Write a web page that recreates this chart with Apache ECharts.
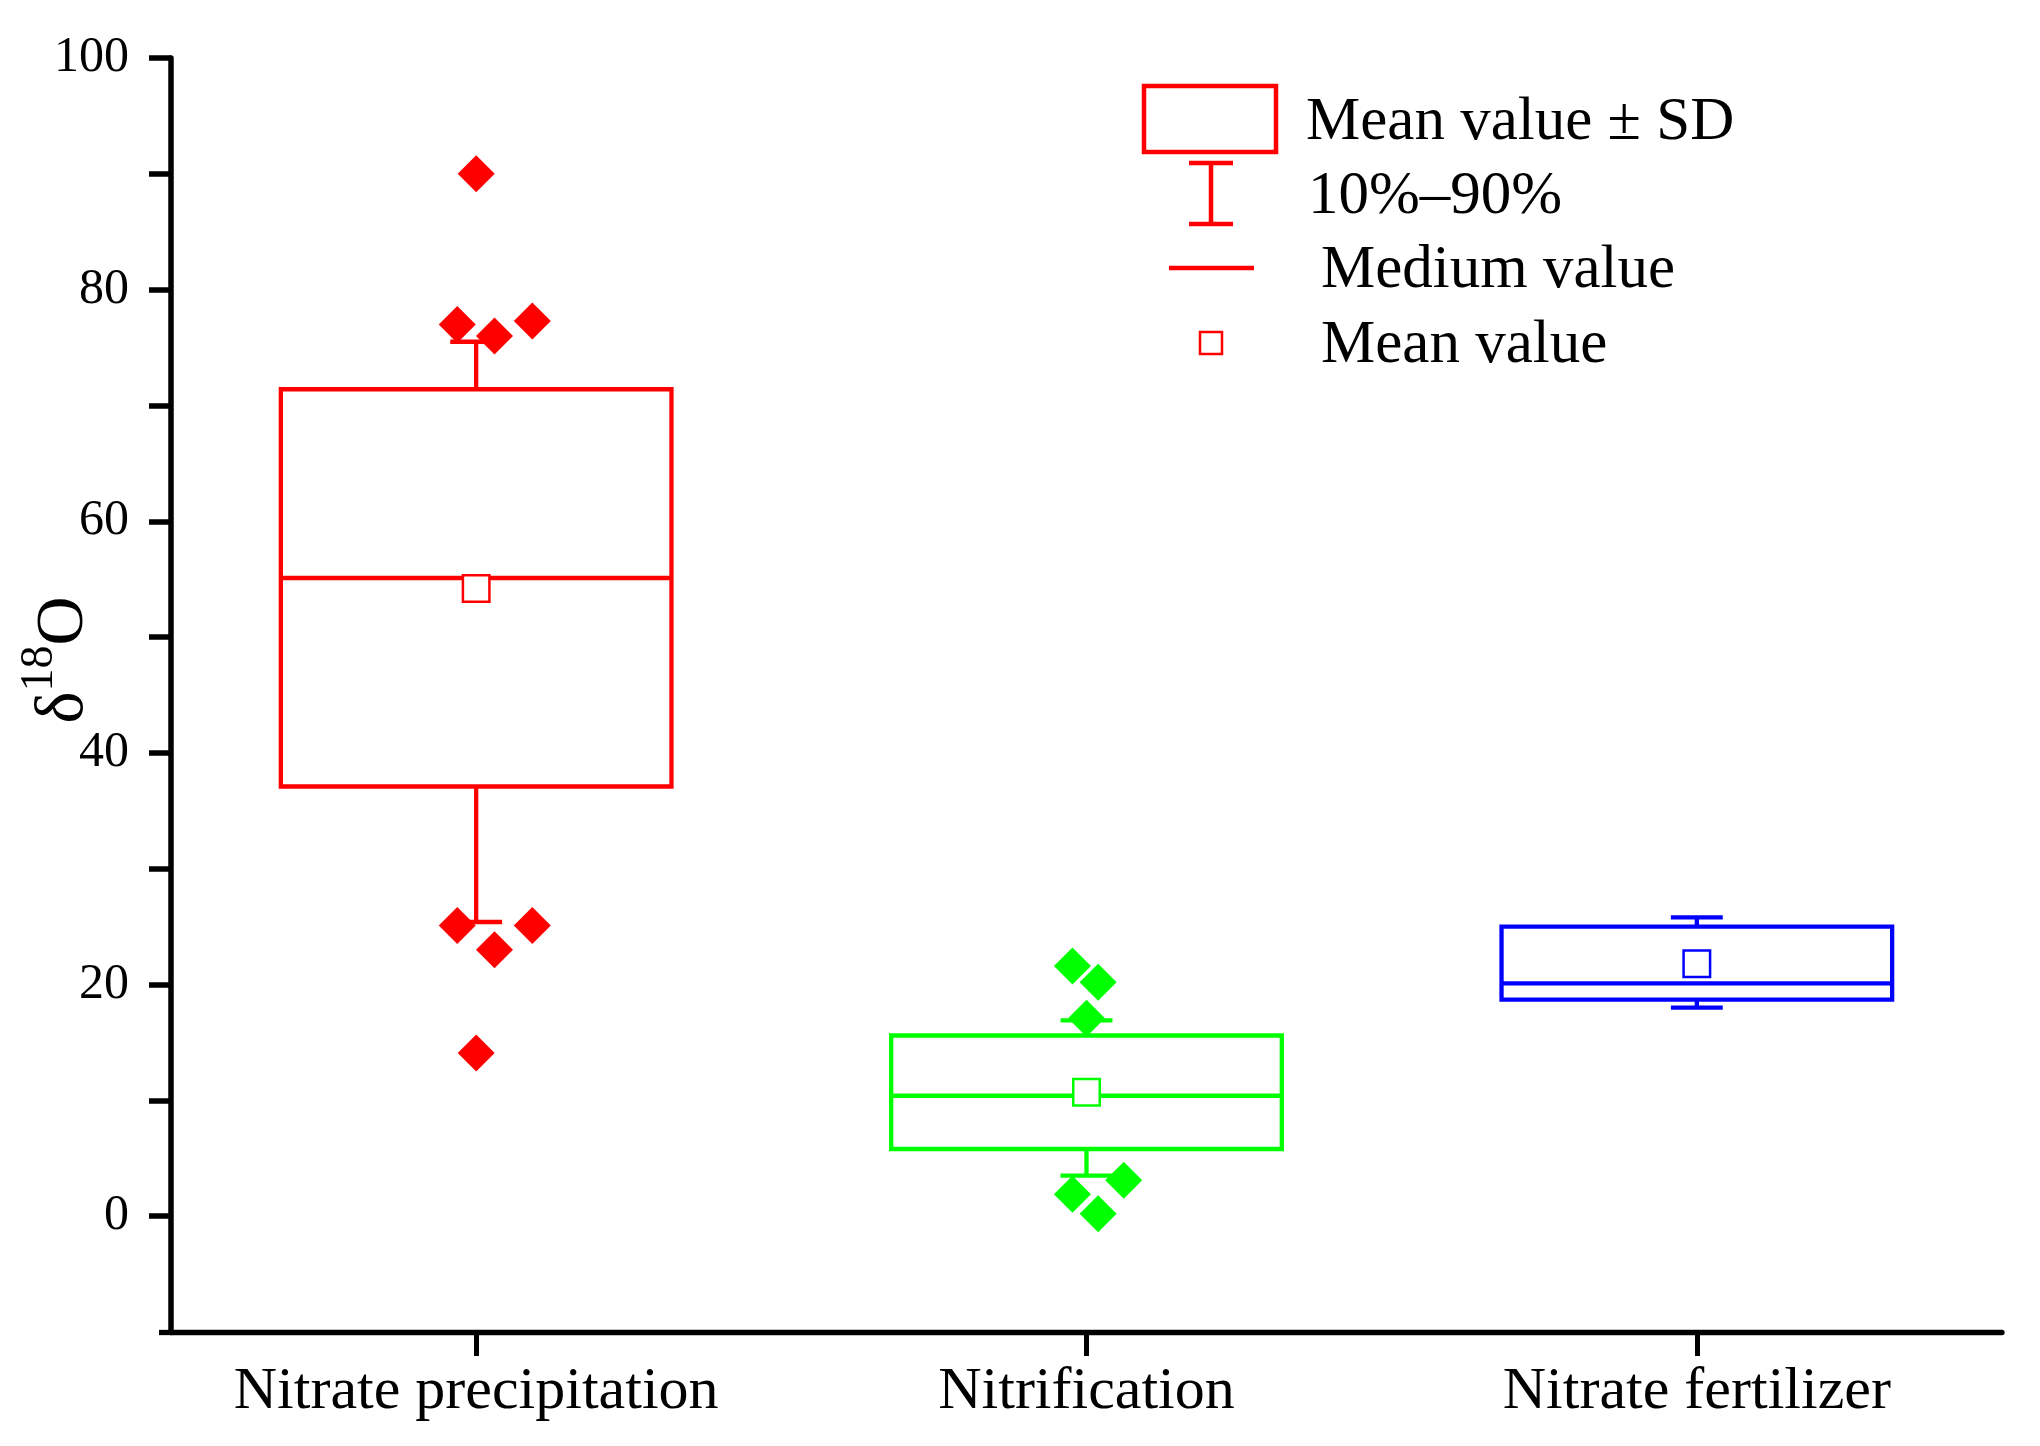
<!DOCTYPE html>
<html>
<head>
<meta charset="utf-8">
<script src="https://cdn.jsdelivr.net/npm/echarts@6/dist/echarts.min.js"></script>
<style>
html,body{margin:0;padding:0;background:#fff;}
#chart{width:2040px;height:1446px;}
</style>
</head>
<body>
<div id="chart"></div>
<script>
// ---- data ----
const categories = ['Nitrate precipitation', 'Nitrification', 'Nitrate fertilizer'];
const colors = ['#FF0000', '#00FF00', '#0000FF'];
const p10 = [25.4, 3.5, 18.0];      // 10th percentile
const sdLow = [37.1, 5.8, 18.7];    // mean - SD
const median = [55.1, 10.4, 20.1];  // median
const sdHigh = [71.4, 15.6, 25.0];  // mean + SD
const p90 = [75.5, 16.9, 25.8];     // 90th percentile
const mean = [54.2, 10.7, 21.8];    // mean
// outliers
const outlierCat = [0, 0, 0, 0, 0, 0, 0, 0, 1, 1, 1, 1, 1, 1];
const outlierJitter = [0, -0.031, 0.030, 0.092, -0.031, 0.092, 0.030, 0, -0.023, 0.019, 0, 0.061, -0.023, 0.019];
const outlierValue = [90.0, 77.0, 76.0, 77.3, 25.1, 25.1, 23.0, 14.1, 21.6, 20.2, 17.1, 3.1, 1.9, 0.2];
const yTickValues = [0, 10, 20, 30, 40, 50, 60, 70, 80, 90, 100];
const yLabelValues = [0, 20, 40, 60, 80, 100];
const legendLabels = ['Mean value \u00B1 SD', '10%\u201390%', 'Medium value', 'Mean value'];
const yTitle = '{d|\u03B4}{s|18}{o|O}';

const FONT = "'Times New Roman', 'Liberation Serif', serif";

const boxData = categories.map((c, i) => [i, p10[i], sdLow[i], median[i], sdHigh[i], p90[i], mean[i]]);
const outlierData = outlierValue.map((v, k) => ({
  value: [outlierCat[k] + outlierJitter[k], v],
  itemStyle: { color: colors[outlierCat[k]], opacity: 1 }
}));

function renderBox(params, api) {
  const i = api.value(0);
  const band = api.size([1, 0])[0];
  const cx = api.coord([i, 0])[0];
  const y = k => api.coord([i, api.value(k)])[1];
  const yP10 = y(1), yLo = y(2), yMed = y(3), yHi = y(4), yP90 = y(5), yMean = y(6);
  const bw = band * 0.64, cw = band * 0.085, ms = 26.5;
  const c = colors[i];
  const lw = 4.3;
  const line = (x1, y1, x2, y2) => ({ type: 'line', shape: { x1, y1, x2, y2 }, style: { stroke: c, lineWidth: lw } });
  return {
    type: 'group',
    children: [
      line(cx, yHi, cx, yP90),
      line(cx - cw / 2, yP90, cx + cw / 2, yP90),
      line(cx, yLo, cx, yP10),
      line(cx - cw / 2, yP10, cx + cw / 2, yP10),
      { type: 'rect', shape: { x: cx - bw / 2, y: yHi, width: bw, height: yLo - yHi }, style: { fill: 'none', stroke: c, lineWidth: lw } },
      line(cx - bw / 2, yMed, cx + bw / 2, yMed),
      { type: 'rect', shape: { x: cx - ms / 2, y: yMean - ms / 2, width: ms, height: ms }, style: { fill: '#fff', stroke: c, lineWidth: 2.5 } }
    ]
  };
}

const chart = echarts.init(document.getElementById('chart'), null, { renderer: 'canvas' });
chart.setOption({
  backgroundColor: '#fff',
  animation: false,
  grid: { left: 171, right: 38, top: 58, bottom: 114, containLabel: false, outerBoundsMode: 'none' },
  xAxis: [{
    type: 'category',
    data: categories,
    axisLine: { show: true, onZero: false, lineStyle: { color: '#000', width: 5.3 } },
    axisTick: { show: true, alignWithLabel: true, interval: 0, length: 24, lineStyle: { color: '#000', width: 5 } },
    axisLabel: { interval: 0, margin: 30, fontSize: 60, fontFamily: FONT, color: '#000' },
    splitLine: { show: false }
  }, {
    type: 'value', min: -0.5, max: 2.5, show: false,
    axisLine: { onZero: false }
  }],
  yAxis: {
    type: 'value',
    min: -10, max: 100, interval: 10,
    axisLine: { show: true, onZero: false, lineStyle: { color: '#000', width: 5.5 } },
    axisTick: { show: true, length: 22, customValues: yTickValues, lineStyle: { color: '#000', width: 5.5 } },
    axisLabel: { margin: 42, fontSize: 50, fontFamily: FONT, color: '#000', customValues: yLabelValues },
    splitLine: { show: false }
  },
  graphic: [
    {
      type: 'text', x: 64, y: 660, rotation: Math.PI / 2,
      style: {
        text: yTitle, align: 'center', verticalAlign: 'middle', fill: '#000',
        rich: {
          d: { fontSize: 68, fontFamily: FONT, fill: '#000', lineHeight: 94 },
          o: { fontSize: 68, fontFamily: FONT, fill: '#000', lineHeight: 94 },
          s: { fontSize: 46, fontFamily: FONT, fill: '#000', lineHeight: 46, verticalAlign: 'top' }
        }
      }
    },
    { type: 'line', shape: { x1: 159, y1: 1332.5, x2: 172, y2: 1332.5 }, style: { stroke: '#000', lineWidth: 5.3 } },
    { type: 'rect', shape: { x: 1144, y: 86, width: 132, height: 66 }, style: { fill: 'none', stroke: '#FF0000', lineWidth: 4.5 } },
    { type: 'line', shape: { x1: 1211, y1: 163, x2: 1211, y2: 224 }, style: { stroke: '#FF0000', lineWidth: 4.5 } },
    { type: 'line', shape: { x1: 1189, y1: 163, x2: 1233, y2: 163 }, style: { stroke: '#FF0000', lineWidth: 4.5 } },
    { type: 'line', shape: { x1: 1189, y1: 224, x2: 1233, y2: 224 }, style: { stroke: '#FF0000', lineWidth: 4.5 } },
    { type: 'line', shape: { x1: 1169, y1: 268, x2: 1254, y2: 268 }, style: { stroke: '#FF0000', lineWidth: 4.5 } },
    { type: 'rect', shape: { x: 1200, y: 332, width: 22, height: 22 }, style: { fill: 'none', stroke: '#FF0000', lineWidth: 2.5 } },
    { type: 'text', x: 1306, y: 123, style: { text: legendLabels[0], font: '61px ' + FONT, fill: '#000', verticalAlign: 'middle' } },
    { type: 'text', x: 1308, y: 197, style: { text: legendLabels[1], font: '61px ' + FONT, fill: '#000', verticalAlign: 'middle' } },
    { type: 'text', x: 1321, y: 271, style: { text: legendLabels[2], font: '61px ' + FONT, fill: '#000', verticalAlign: 'middle' } },
    { type: 'text', x: 1321, y: 346, style: { text: legendLabels[3], font: '61px ' + FONT, fill: '#000', verticalAlign: 'middle' } }
  ],
  series: [{
    type: 'custom',
    name: 'box',
    xAxisIndex: 0,
    renderItem: renderBox,
    encode: { x: 0, y: [1, 2, 3, 4, 5, 6] },
    data: boxData,
    z: 2
  }, {
    type: 'scatter',
    name: 'outliers',
    xAxisIndex: 1,
    symbol: 'diamond',
    symbolSize: 37,
    itemStyle: { opacity: 1 },
    data: outlierData,
    z: 3
  }]
});
</script>
</body>
</html>
